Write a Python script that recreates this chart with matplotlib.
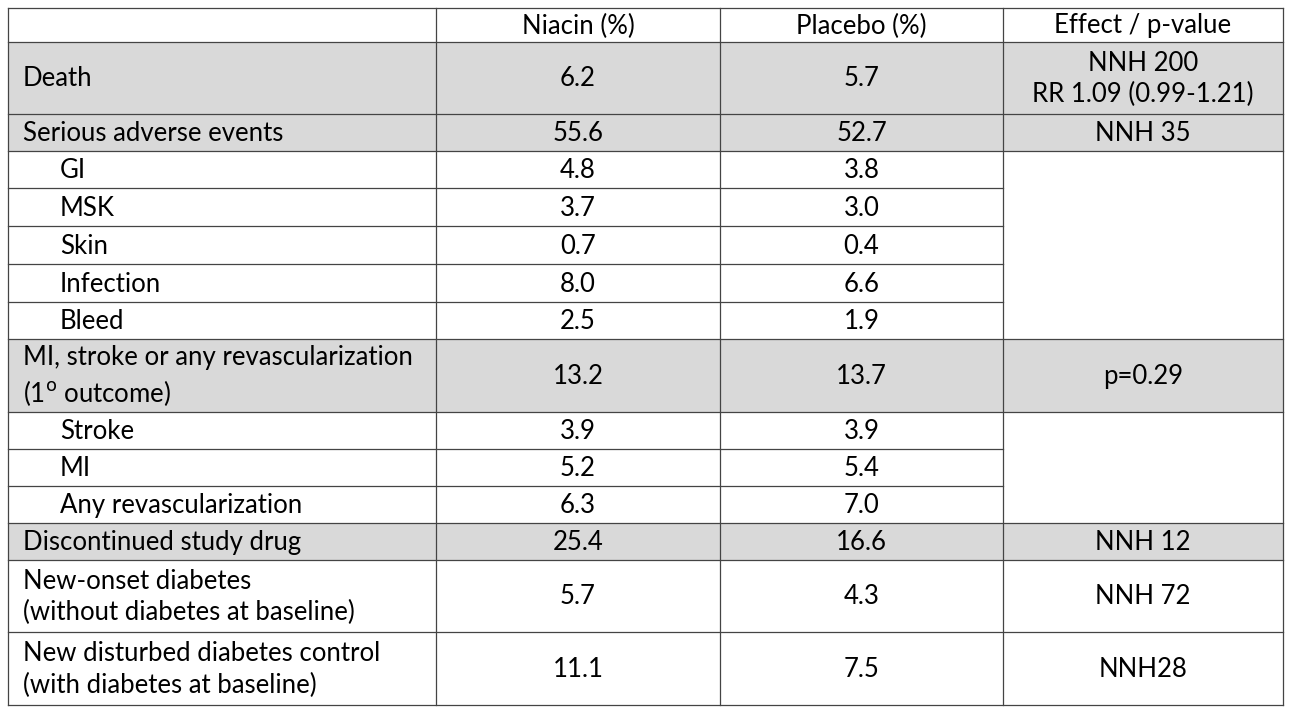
import matplotlib
matplotlib.use("Agg")
import matplotlib.pyplot as plt

headers = ["", "Niacin (%)", "Placebo (%)", "Effect / p-value"]
outcomes = ["Death", "Serious adverse events", "GI", "MSK", "Skin", "Infection", "Bleed",
            "MI, stroke or any revascularization\n(1$^{\\mathrm{o}}$ outcome)", "Stroke", "MI",
            "Any revascularization", "Discontinued study drug",
            "New-onset diabetes\n(without diabetes at baseline)",
            "New disturbed diabetes control\n(with diabetes at baseline)"]
niacin = ["6.2", "55.6", "4.8", "3.7", "0.7", "8.0", "2.5", "13.2", "3.9", "5.2", "6.3", "25.4", "5.7", "11.1"]
placebo = ["5.7", "52.7", "3.8", "3.0", "0.4", "6.6", "1.9", "13.7", "3.9", "5.4", "7.0", "16.6", "4.3", "7.5"]
effect = ["NNH 200\nRR 1.09 (0.99-1.21)", "NNH 35", None, "", "", "", "", "p=0.29", None, "", "",
          "NNH 12", "NNH 72", "NNH28"]
indent = [False, False, True, True, True, True, True, False, True, True, True, False, False, False]
shaded = [True, True, False, False, False, False, False, True, False, False, False, True, False, False]

xs = [8, 436, 720, 1003, 1283]
ys = [8, 42, 114, 151, 188, 226, 264, 302, 339, 412, 449, 486, 523, 560, 632, 705]
inmerge = set(range(3, 7)) | set(range(9, 11))

fig = plt.figure(figsize=(12.9, 7.1), dpi=100)
ax = fig.add_axes([0, 0, 1, 1])
ax.set_xlim(0, 1290); ax.set_ylim(710, 0); ax.axis("off")
fs = 18.5
font = "Lato"
lc = "#444444"; lw = 0.9

def cell_text(x, y, s, ha="center"):
    ax.text(x, y, s, ha=ha, va="center", fontsize=fs, family=font, color="black", linespacing=1.3)

for j in range(1, 4):
    cell_text((xs[j] + xs[j+1]) / 2, (ys[0] + ys[1]) / 2 + 1, headers[j])

for i, lab in enumerate(outcomes):
    y0, y1 = ys[i+1], ys[i+2]
    yc = (y0 + y1) / 2
    if shaded[i]:
        ax.add_patch(plt.Rectangle((xs[0], y0), xs[4]-xs[0], y1-y0, color="#d9d9d9", lw=0, zorder=0))
    cell_text(xs[0] + (52 if indent[i] else 15), yc + 1, lab, ha="left")
    cell_text((xs[1]+xs[2])/2, yc + 1, niacin[i])
    cell_text((xs[2]+xs[3])/2, yc + 1, placebo[i])
    if effect[i]:
        cell_text((xs[3]+xs[4])/2, yc + 1, effect[i])

for x in xs:
    ax.plot([x, x], [ys[0], ys[-1]], color=lc, lw=lw)
for k, y in enumerate(ys):
    below = k - 1
    if below in inmerge:
        ax.plot([xs[0], xs[3]], [y, y], color=lc, lw=lw)
    else:
        ax.plot([xs[0], xs[4]], [y, y], color=lc, lw=lw)

fig.savefig("out.png", dpi=100, facecolor="white")
